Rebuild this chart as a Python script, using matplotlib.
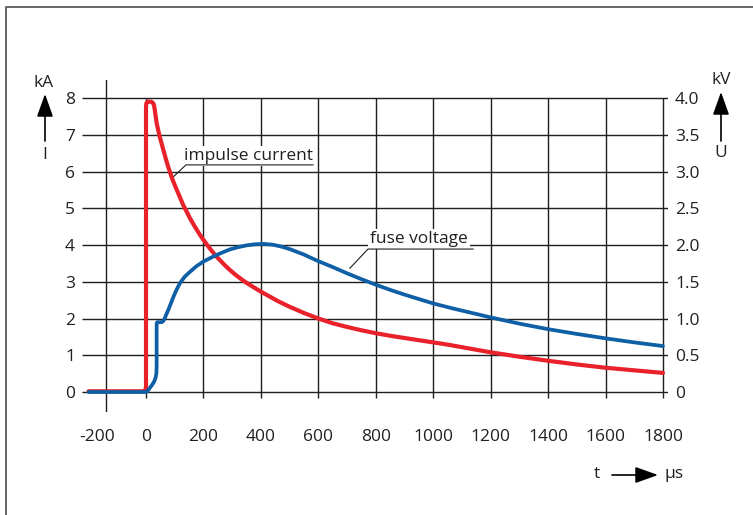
import matplotlib
matplotlib.use("Agg")
import matplotlib.pyplot as plt
from matplotlib.lines import Line2D

plt.rcParams['font.family'] = ['Open Sans', 'DejaVu Sans']

# ---- data -------------------------------------------------------------
# impulse current I in kA over time t in microseconds
t_current = [-200, -10, -2, 0, 0, 1, 5, 18, 25, 28, 31, 34, 37, 42, 48, 54, 60,
             68, 76, 84, 90, 100, 110, 118, 130, 142, 153, 170, 185, 200, 215,
             230, 246, 262, 277, 292, 310, 330, 350, 375, 400, 430, 460, 500,
             550, 600, 650, 700, 750, 800, 850, 900, 950, 1000, 1050, 1100,
             1150, 1200, 1300, 1400, 1500, 1600, 1700, 1800]
i_current = [0.02, 0.02, 0.04, 0.15, 7.75, 7.85, 7.9, 7.9, 7.86, 7.8, 7.65, 7.48,
             7.32, 7.14, 6.94, 6.77, 6.6, 6.37, 6.16, 5.97, 5.83, 5.63, 5.45,
             5.3, 5.08, 4.9, 4.73, 4.5, 4.31, 4.14, 3.98, 3.83, 3.68, 3.55, 3.43,
             3.32, 3.2, 3.08, 2.97, 2.85, 2.73, 2.6, 2.47, 2.32, 2.15, 2.0, 1.87,
             1.77, 1.68, 1.6, 1.53, 1.47, 1.41, 1.35, 1.29, 1.22, 1.15, 1.08,
             0.96, 0.85, 0.75, 0.66, 0.59, 0.52]

# fuse voltage U in kV over time t in microseconds
t_voltage = [-200, 0, 5, 12, 20, 28, 33, 36, 37, 37, 39, 55, 60, 65, 70, 78, 86,
             95, 105, 118, 135, 153, 175, 200, 225, 246, 270, 292, 320, 350,
             380, 410, 440, 470, 500, 550, 594, 650, 700, 750, 800, 850, 900,
             950, 1000, 1065, 1130, 1200, 1300, 1400, 1500, 1600, 1700, 1800]
u_voltage = [0.0, 0.0, 0.01, 0.05, 0.09, 0.14, 0.19, 0.25, 0.35, 0.93, 0.95, 0.95,
             0.965, 1.0, 1.05, 1.12, 1.2, 1.29, 1.38, 1.48, 1.57, 1.635, 1.71,
             1.775, 1.825, 1.865, 1.905, 1.94, 1.97, 1.995, 2.01, 2.015, 2.005,
             1.98, 1.945, 1.87, 1.79, 1.7, 1.615, 1.535, 1.46, 1.39, 1.325,
             1.265, 1.205, 1.14, 1.08, 1.015, 0.93, 0.855, 0.79, 0.73, 0.675,
             0.625]

x_ticks = [0, 200, 400, 600, 800, 1000, 1200, 1400, 1600, 1800]
x_tick_labels = ['0', '200', '400', '600', '800', '1000', '1200', '1400', '1600', '1800']
i_ticks = [0, 1, 2, 3, 4, 5, 6, 7, 8]
u_ticks = [0, 0.5, 1.0, 1.5, 2.0, 2.5, 3.0, 3.5, 4.0]
u_tick_labels = ['0', '0.5', '1.0', '1.5', '2.0', '2.5', '3.0', '3.5', '4.0']

# ---- figure -----------------------------------------------------------
W, H = 753, 515
fig = plt.figure(figsize=(W / 100, H / 100), dpi=100)
fig.patch.set_facecolor('white')


def fx(px):
    return px / W


def fy(py):
    return 1 - py / H


RED = '#e8212b'
BLUE = '#0f5fa6'
GRID = '#1e1e1e'
TXT = '#231f20'

ax = fig.add_axes([fx(82), fy(412), (668 - 82) / W, (412 - 80) / H])
x_lo, x_hi = -222.9, 1817.6
y_lo, y_hi = -0.544, 8.49
ax.set_xlim(x_lo, x_hi)
ax.set_ylim(y_lo, y_hi)
ax2 = ax.twinx()
ax2.set_ylim(y_lo / 2, y_hi / 2)
for a in (ax, ax2):
    for s in a.spines.values():
        s.set_visible(False)
    a.tick_params(length=0)
ax.set_xticks([])

# grid
for v in i_ticks:
    ax.plot([x_lo, x_hi], [v, v], color=GRID, lw=1.0, zorder=1, solid_capstyle='butt')
for t in x_ticks:
    ax.plot([t, t], [-0.163, 8], color=GRID, lw=1.0, zorder=1, solid_capstyle='butt')
ax.plot([-139.3, -139.3], [y_lo, y_hi], color=GRID, lw=1.0, zorder=1)

# curves
ax.plot(t_current, i_current, color=RED, lw=3.0, zorder=4,
        solid_joinstyle='round', solid_capstyle='round')
ax2.plot(t_voltage, u_voltage, color=BLUE, lw=2.7, zorder=4,
         solid_joinstyle='round', solid_capstyle='round')

# tick labels
fs = 12.5
ax.set_yticks(i_ticks)
ax.set_yticklabels([str(v) for v in i_ticks], fontsize=fs, color=TXT)
ax.tick_params(axis='y', pad=5)
ax2.set_yticks(u_ticks)
ax2.set_yticklabels(u_tick_labels, fontsize=fs, color=TXT)
ax2.tick_params(axis='y', pad=5)
for t, lab in zip(x_ticks, x_tick_labels):
    ax.text(t, -1.22, lab, ha='center', va='center', fontsize=fs, color=TXT)
ax.text(-170, -1.22, '-200', ha='center', va='center', fontsize=fs, color=TXT)

# curve labels with leaders
box = dict(boxstyle='square,pad=0.12', fc='white', ec='none')
ax.text(358, 6.31, 'impulse current', ha='center', va='baseline', fontsize=fs,
        color=TXT, bbox=box, zorder=2)
ax.plot([90.5, 139, 581.5], [5.82, 6.18, 6.18], color=GRID, lw=0.8, zorder=3)
ax.text(949, 4.05, 'fuse voltage', ha='center', va='baseline', fontsize=fs,
        color=TXT, bbox=box, zorder=2)
ax.plot([710, 773, 1139], [3.37, 3.89, 3.89], color=GRID, lw=0.8, zorder=3)

# axis quantity labels with arrows
arrow = dict(arrowstyle='-|>,head_length=0.7,head_width=0.25', color='black',
             lw=1.2, shrinkA=0, shrinkB=0, mutation_scale=20)
fig.text(fx(44), fy(83), 'kA', ha='center', va='center', fontsize=fs, color=TXT)
fig.text(fx(45), fy(155), 'I', ha='center', va='center', fontsize=fs, color=TXT)
ax.annotate('', xy=(fx(45), fy(94)), xytext=(fx(45), fy(141)),
            xycoords='figure fraction', textcoords='figure fraction', arrowprops=arrow)
fig.text(fx(721), fy(80), 'kV', ha='center', va='center', fontsize=fs, color=TXT)
fig.text(fx(721), fy(153), 'U', ha='center', va='center', fontsize=fs, color=TXT)
ax.annotate('', xy=(fx(721), fy(92)), xytext=(fx(721), fy(141)),
            xycoords='figure fraction', textcoords='figure fraction', arrowprops=arrow)
fig.text(fx(597), fy(474), 't', ha='center', va='center', fontsize=fs, color=TXT)
fig.text(fx(674), fy(474), 'µs', ha='center', va='center', fontsize=fs, color=TXT)
ax.annotate('', xy=(fx(658), fy(475)), xytext=(fx(612), fy(475)),
            xycoords='figure fraction', textcoords='figure fraction', arrowprops=arrow)

# outer frame (top and left edges)
fig.add_artist(Line2D([fx(6), fx(6), 1], [0, fy(7), fy(7)], color='#5a5a5a', lw=1.3))

fig.savefig('out.png', dpi=100)
